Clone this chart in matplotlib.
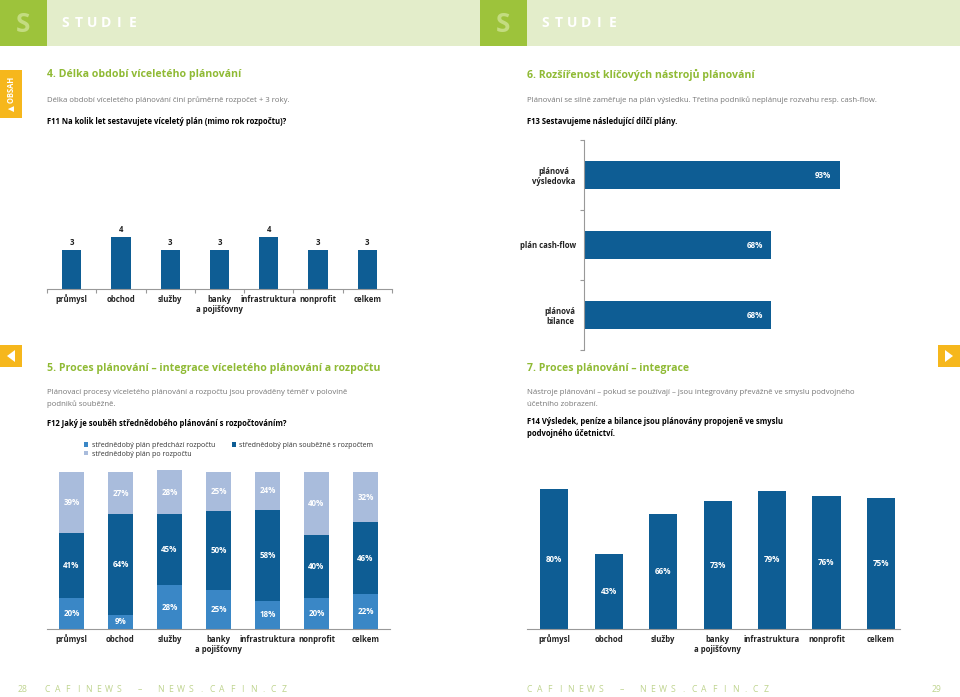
import matplotlib.pyplot as plt
from matplotlib.patches import Rectangle, Polygon

plt.rcParams['font.family'] = ['Open Sans', 'DejaVu Sans']

# data
categories = ['průmysl', 'obchod', 'služby', 'banky\na pojišťovny', 'infrastruktura', 'nonprofit', 'celkem']
plan_years = [3, 4, 3, 3, 4, 3, 3]
plan_types = ['plánová\nvýsledovka', 'plán cash-flow', 'plánová\nbilance']
plan_share = [93, 68, 68]
before_budget = [20, 9, 28, 25, 18, 20, 22]
with_budget = [41, 64, 45, 50, 58, 40, 46]
after_budget = [39, 27, 28, 25, 24, 40, 32]
integrated = [80, 43, 66, 73, 79, 76, 75]

W, H = 960, 697
DARK = '#0e5d94'
MID = '#3a87c6'
LIGHT = '#a9bcdc'
GREEN = '#8fba34'
GREEN_SQ = '#9dc33b'
GREEN_BAND = '#e3edca'
ORANGE = '#f6b71c'
GRAY = '#777777'
AXIS = '#999999'

fig = plt.figure(figsize=(9.6, 6.97), dpi=100)


def fx(x):
    return x / W


def fy(y):
    return 1 - y / H


def txt(x, y, s, **kw):
    kw.setdefault('va', 'center')
    fig.text(fx(x), fy(y), s, **kw)


def box(x0, y0, x1, y1, color):
    fig.patches.append(Rectangle((fx(x0), fy(y1)), fx(x1 - x0), (y1 - y0) / H,
                                 transform=fig.transFigure, color=color, lw=0, zorder=0))


def axes(x0, y0, x1, y1):
    return fig.add_axes([fx(x0), fy(y1), fx(x1 - x0), (y1 - y0) / H])


# header bands
for off in (0, 480):
    box(off, 0, off + 47, 46, GREEN_SQ)
    box(off + 47, 0, off + 480, 46, GREEN_BAND)
    txt(off + 23, 25, 'S', color='#c3dc80', fontsize=19, fontweight='bold', ha='center')
    for i, ch in enumerate('STUDIE'):
        txt(off + 65 + i * 13.6, 23, ch, color='white', fontsize=10, fontweight='bold', ha='center')

# side tabs
box(0, 70, 22, 118, ORANGE)
txt(11, 94, '▲ OBSAH', color='white', fontsize=5.5, fontweight='bold', rotation=90, ha='center')
box(0, 345, 22, 367, ORANGE)
fig.patches.append(Polygon([(fx(7), fy(356)), (fx(15), fy(350)), (fx(15), fy(362))],
                           transform=fig.transFigure, color='white', lw=0))
box(938, 345, 960, 367, ORANGE)
fig.patches.append(Polygon([(fx(953), fy(356)), (fx(945), fy(350)), (fx(945), fy(362))],
                           transform=fig.transFigure, color='white', lw=0))

# section texts
title_kw = dict(color=GREEN, fontsize=7.6, fontweight='bold', ha='left')
body_kw = dict(color=GRAY, fontsize=5.6, ha='left')
q_kw = dict(color='black', fontsize=5.5, fontweight='bold', ha='left')

txt(47, 75, '4. Délka období víceletého plánování', **title_kw)
txt(47, 100, 'Délka období víceletého plánování činí průměrně rozpočet + 3 roky.', **body_kw)
txt(47, 121, 'F11 Na kolik let sestavujete víceletý plán (mimo rok rozpočtu)?', **q_kw)

txt(527, 75, '6. Rozšířenost klíčových nástrojů plánování', **title_kw)
txt(527, 100, 'Plánování se silně zaměřuje na plán výsledku. Třetina podniků neplánuje rozvahu resp. cash-flow.', **body_kw)
txt(527, 121, 'F13 Sestavujeme následující dílčí plány.', **q_kw)

txt(47, 369, '5. Proces plánování – integrace víceletého plánování a rozpočtu', **title_kw)
txt(47, 392, 'Plánovací procesy víceletého plánování a rozpočtu jsou prováděny téměř v polovině', **body_kw)
txt(47, 404, 'podniků souběžně.', **body_kw)
txt(47, 423, 'F12 Jaký je souběh střednědobého plánování s rozpočtováním?', **q_kw)

txt(527, 369, '7. Proces plánování – integrace', **title_kw)
txt(527, 393, 'Nástroje plánování – pokud se používají – jsou integrovány převážně ve smyslu podvojného', **body_kw)
txt(527, 405, 'účetního zobrazení.', **body_kw)
txt(527, 422, 'F14 Výsledek, peníze a bilance jsou plánovány propojeně ve smyslu', **q_kw)
txt(527, 434, 'podvojného účetnictví.', **q_kw)

# footer
foot = 'CAFINEWS – NEWS.CAFIN.CZ'
FOOT = '#bfd48e'
for start in (47, 529):
    for i, ch in enumerate(foot):
        txt(start + i * 10.3, 690, ch, color=FOOT, fontsize=6.2, ha='center')
txt(22, 690, '28', color=FOOT, fontsize=6.2, ha='center')
txt(937, 690, '29', color=FOOT, fontsize=6.2, ha='center')

lab_kw = dict(fontsize=5.6, fontweight='bold', color='#222222')
val_kw = dict(fontsize=5.8, fontweight='bold', color='white', ha='center', va='center')


def style_cat_axis(ax, n, boundary_ticks=True):
    for s in ('top', 'right', 'left'):
        ax.spines[s].set_visible(False)
    ax.spines['bottom'].set_color(AXIS)
    ax.spines['bottom'].set_linewidth(0.8)
    ax.set_yticks([])
    ax.set_xticks(range(n))
    ax.set_xticklabels(categories, **lab_kw)
    ax.tick_params(axis='x', length=0, pad=4)
    if boundary_ticks:
        ax.set_xticks([i - 0.5 for i in range(n + 1)], minor=True)
        ax.tick_params(axis='x', which='minor', length=3, color=AXIS, width=0.8)
    ax.set_facecolor('none')


# F11 chart
ax1 = axes(47, 220, 392, 289)
x = range(len(categories))
ax1.bar(x, plan_years, width=0.39, color=DARK)
for i, v in enumerate(plan_years):
    ax1.text(i, v + 0.25, str(v), ha='center', va='bottom', fontsize=5.6, fontweight='bold', color='#222222')
ax1.set_xlim(-0.5, 6.5)
ax1.set_ylim(0, 69 / 13)
style_cat_axis(ax1, len(categories))

# F13 chart
ax2 = axes(584, 140, 859, 350)
yy = range(len(plan_types))
ax2.barh(yy, plan_share, height=0.4, color=DARK)
for i, v in enumerate(plan_share):
    ax2.text(v - 6, i, f'{v}%', **val_kw)
ax2.set_ylim(2.5, -0.5)
ax2.set_xlim(0, 100)
for s in ('top', 'right', 'bottom'):
    ax2.spines[s].set_visible(False)
ax2.spines['left'].set_color(AXIS)
ax2.spines['left'].set_linewidth(0.8)
ax2.set_xticks([])
ax2.set_yticks(yy)
ax2.set_yticklabels(plan_types, multialignment='center', **lab_kw)
ax2.tick_params(axis='y', length=0, pad=6)
ax2.set_yticks([-0.5, 0.5, 1.5, 2.5], minor=True)
ax2.tick_params(axis='y', which='minor', length=3, color=AXIS, width=0.8)
ax2.set_facecolor('none')

# F12 stacked chart
ax3 = axes(47, 466, 390, 629)
b1 = ax3.bar(x, before_budget, width=0.51, color=MID, label='střednědobý plán předchází rozpočtu')
bottom2 = before_budget
b2 = ax3.bar(x, with_budget, width=0.51, bottom=bottom2, color=DARK, label='střednědobý plán souběžně s rozpočtem')
bottom3 = [a + b for a, b in zip(before_budget, with_budget)]
b3 = ax3.bar(x, after_budget, width=0.51, bottom=bottom3, color=LIGHT, label='střednědobý plán po rozpočtu')
for i in x:
    ax3.text(i, before_budget[i] / 2, f'{before_budget[i]}%', **val_kw)
    ax3.text(i, bottom2[i] + with_budget[i] / 2, f'{with_budget[i]}%', **val_kw)
    ax3.text(i, bottom3[i] + after_budget[i] / 2, f'{after_budget[i]}%', **val_kw)
ax3.set_xlim(-0.5, 6.5)
ax3.set_ylim(0, 100 * 163 / 157)
style_cat_axis(ax3, len(categories), boundary_ticks=False)
fig.legend(handles=[b1, b3, b2], ncol=2, loc='upper left', bbox_to_anchor=(fx(84), fy(442)),
           frameon=False, fontsize=5, handlelength=0.6, handleheight=0.6, handletextpad=0.5,
           columnspacing=2.4, labelspacing=0.25, borderpad=0, borderaxespad=0,
           labelcolor='#333333')

# F14 chart
ax4 = axes(527, 470, 900, 629)
ax4.bar(x, integrated, width=0.515, color=DARK)
for i, v in enumerate(integrated):
    ax4.text(i, v / 2, f'{v}%', **val_kw)
ax4.set_xlim(-0.5, 6.35)
ax4.set_ylim(0, 159 / 1.75)
style_cat_axis(ax4, len(categories), boundary_ticks=False)

fig.savefig('out.png', dpi=100)
